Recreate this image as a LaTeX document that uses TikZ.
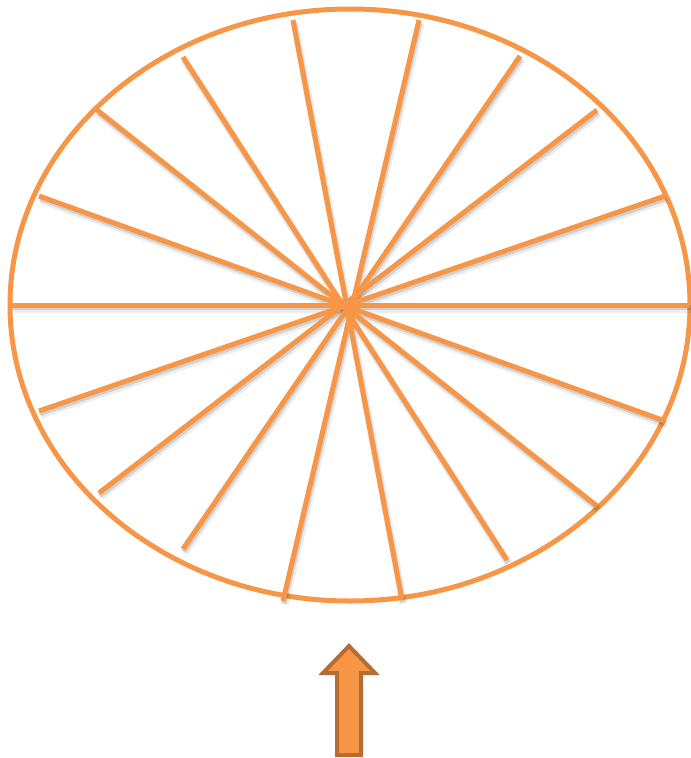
\documentclass[tikz,border=0pt]{standalone}
\definecolor{spokeorange}{HTML}{F79646}
\definecolor{arrowbrown}{HTML}{B66D31}
\begin{document}
\begin{tikzpicture}[x=1pt,y=-1pt,
  spokeline/.style={draw=spokeorange, line width=5pt},
  shadowa/.style={draw=black, opacity=0.07, line width=8pt},
  shadowb/.style={draw=black, opacity=0.12, line width=5pt},
  rimline/.style={draw=spokeorange, line width=5pt},
  blockarrow/.style={fill=spokeorange, draw=arrowbrown, line width=4pt, line join=miter}]
\useasboundingbox (0,0) rectangle (691,758);
% rim
\draw[rimline] (350,305) ellipse [x radius=340, y radius=296];
% spokes: shadows then lines
\foreach \xa/\ya/\xb/\yb [count=\i] in {293/20/402/600, 419/20/283/601, 183/57/507/560, 520/56/183/549, 39/196/665/421, 665/196/39/411, 97/110/597/506, 597/110/99/493, 12/305/690/305}{
  \coordinate (s\i a) at (\xa,\ya);
  \coordinate (s\i b) at (\xb,\yb);
  \draw[shadowa] ([shift={(1.5,3.5)}]s\i a) -- ([shift={(1.5,3.5)}]s\i b);
  \draw[shadowb] ([shift={(1,2.5)}]s\i a) -- ([shift={(1,2.5)}]s\i b);
}
\foreach \i in {1,...,9}{
  \draw[spokeline] (s\i a) -- (s\i b);
}
% arrow
\draw[blockarrow] (349,646) -- (375,673) -- (361,673) -- (361,755) -- (337,755) -- (337,673) -- (323,673) -- cycle;
\end{tikzpicture}
\end{document}
